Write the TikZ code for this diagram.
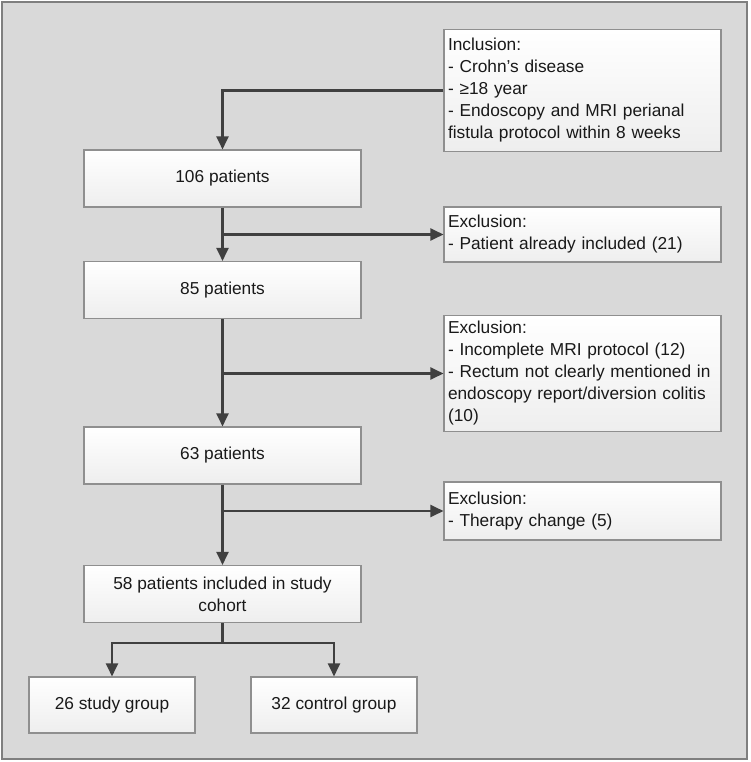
\documentclass[tikz,border=0pt]{standalone}
\usepackage{fontspec}
\setmainfont{Liberation Sans}
\usetikzlibrary{arrows.meta}
\definecolor{bgfill}{HTML}{D9D9D9}
\definecolor{framec}{HTML}{7F7F7F}
\definecolor{boxline}{HTML}{8F8F8F}
\definecolor{boxbot}{HTML}{EEEEEE}
\definecolor{arrc}{HTML}{404040}
\begin{document}
\begin{tikzpicture}[x=1pt,y=-1pt,
  every node/.style={font=\fontsize{17.3}{22}\selectfont, text=black!90},
  flowbox/.style={draw=boxline, line width=1.1pt, top color=white, bottom color=boxbot,
    rectangle, inner sep=0pt, align=center},
  mainbox/.style={flowbox, minimum width=277pt, minimum height=57pt},
  groupbox/.style={flowbox, minimum width=166pt, minimum height=56pt},
  sidebox/.style={flowbox, minimum width=277pt, text width=269pt, align=left, inner xsep=4pt},
  conn/.style={draw=arrc, line width=2.2pt},
  arr/.style={conn, -{Triangle[length=13pt,width=12pt]}}
]
\useasboundingbox (0,0) rectangle (750,762);
\fill[bgfill, draw=framec, line width=1.5pt] (2,2) rectangle (747,759);

\node[sidebox, minimum height=122pt] (inc) at (582.5,90.5)
  {Inclusion:\\- Crohn’s disease\\- ≥18 year\\- Endoscopy and MRI perianal\\fistula protocol within 8 weeks};
\node[mainbox] (n106) at (222.5,178.5) {106 patients};
\node[sidebox, minimum height=55pt] (ex1) at (582.5,234.5)
  {Exclusion:\\- Patient already included (21)};
\node[mainbox] (n85) at (222.5,290) {85 patients};
\node[sidebox, minimum height=116pt] (ex2) at (582.5,373.5)
  {Exclusion:\\- Incomplete MRI protocol (12)\\- Rectum not clearly mentioned in\\endoscopy report/diversion colitis\\(10)};
\node[mainbox] (n63) at (222.5,455.5) {63 patients};
\node[sidebox, minimum height=58pt] (ex3) at (582.5,511)
  {Exclusion:\\- Therapy change (5)};
\node[mainbox] (n58) at (222.5,594) {58 patients included in study\\cohort};
\node[groupbox] (g1) at (112,705) {26 study group};
\node[groupbox] (g2) at (334,705) {32 control group};

\draw[arr] (inc.west) -| (n106.north);
\draw[arr] (n106.south) -- (n85.north);
\draw[arr] (n106.south |- ex1.west) -- (ex1.west);
\draw[arr] (n85.south) -- (n63.north);
\draw[arr] (n85.south |- ex2.west) -- (ex2.west);
\draw[arr] (n63.south) -- (n58.north);
\draw[arr] (n63.south |- ex3.west) -- (ex3.west);
\draw[conn] (n58.south) -- ++(0,20) coordinate (split);
\draw[arr] (split) -| (g1.north);
\draw[arr] (split) -| (g2.north);
\end{tikzpicture}
\end{document}
